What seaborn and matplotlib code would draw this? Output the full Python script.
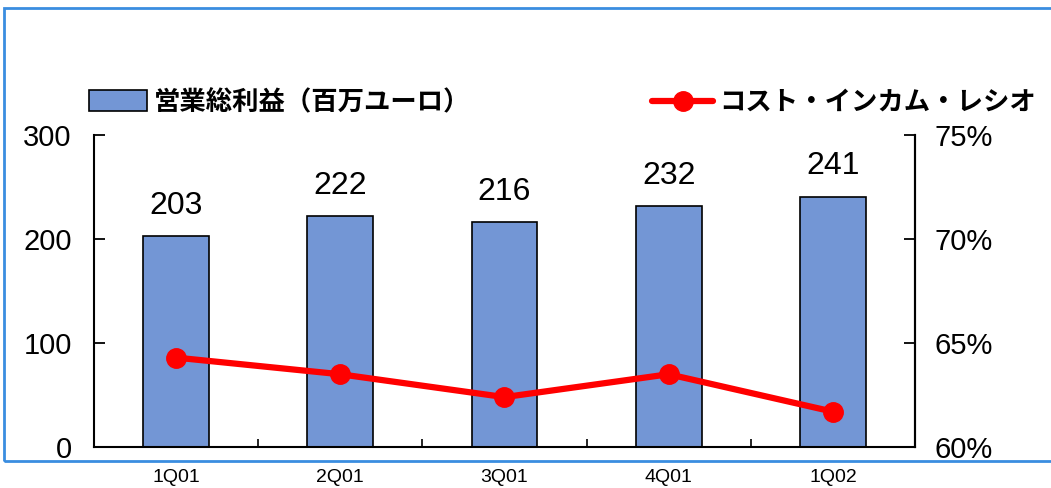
import numpy as np
import pandas as pd
import matplotlib
matplotlib.use("Agg")
import matplotlib.pyplot as plt
import matplotlib.patches as mpatches
from matplotlib.lines import Line2D
import seaborn as sns

quarters = ["1Q01", "2Q01", "3Q01", "4Q01", "1Q02"]
gross_profit = [203, 222, 216, 232, 241]
cost_income = [64.3, 63.5, 62.4, 63.5, 61.7]
bar_label_text = "営業総利益（百万ユーロ）"
line_label_text = "コスト・インカム・レシオ"

sns.set_style("white", {"text.color": "black", "xtick.color": "black",
                        "ytick.color": "black", "axes.labelcolor": "black"})
plt.rcParams["font.family"] = ["Liberation Sans", "DejaVu Sans"]

bar_color = "#7396d5"
line_color = "#ff0000"
jp_font = ["Noto Sans CJK JP", "DejaVu Sans"]

df = pd.DataFrame({"quarter": quarters, "profit": gross_profit})

fig = plt.figure(figsize=(10.51, 4.88), dpi=100)
ax = fig.add_axes([0.0894, 0.084, 0.7812, 0.639])

sns.barplot(data=df, x="quarter", y="profit", color=bar_color, width=0.4,
            edgecolor="black", linewidth=1.2, saturation=1, ax=ax)
ax.bar_label(ax.containers[0], padding=11, fontsize=23, color="black")
ax.set_ylim(0, 300)
ax.set_yticks([0, 100, 200, 300])
ax.set_xlim(-0.5, 4.5)
ax.set_xlabel("")
ax.set_ylabel("")
ax.tick_params(axis="y", direction="in", length=8, width=1.3, labelsize=21, pad=16,
               left=True, colors="black")
ax.tick_params(axis="x", length=0, labelsize=14, pad=16, colors="black")
ax.set_xticks(np.arange(0.5, 4.5, 1), minor=True)
ax.tick_params(axis="x", which="minor", direction="in", length=6, width=1.2, bottom=True)
for side in ["left", "bottom", "right"]:
    ax.spines[side].set_color("black")
    ax.spines[side].set_linewidth(1.5)
ax.spines["top"].set_visible(False)

ax2 = ax.twinx()
ax2.plot(np.arange(len(quarters)), cost_income, color=line_color, linewidth=4.5,
         marker="o", markersize=14, zorder=5)
ax2.set_ylim(60, 75)
ax2.set_yticks([60, 65, 70, 75])
ax2.set_yticklabels([f"{v}%" for v in [60, 65, 70, 75]])
ax2.tick_params(axis="y", direction="in", length=8, width=1.3, labelsize=21, pad=14,
                right=True, colors="black")
ax2.spines["top"].set_visible(False)
ax2.spines["right"].set_linewidth(1.5)
ax2.spines["right"].set_color("black")
ax2.spines["left"].set_visible(False)
ax2.spines["bottom"].set_visible(False)

# legends
bar_handle = mpatches.Patch(facecolor=bar_color, edgecolor="black", linewidth=1.2)
line_handle = Line2D([0], [0], color=line_color, linewidth=4.5, marker="o", markersize=14)
leg1 = fig.legend([bar_handle], [bar_label_text], loc="center left",
                  bbox_to_anchor=(0.062, 0.79), frameon=False, handlelength=2.2,
                  handleheight=0.85, handletextpad=0.25, labelcolor="black",
                  prop={"family": jp_font, "size": 19, "weight": "bold"})
leg2 = fig.legend([line_handle], [line_label_text], loc="center left",
                  bbox_to_anchor=(0.598, 0.79), frameon=False, handlelength=2.3,
                  handletextpad=0.25, labelcolor="black",
                  prop={"family": jp_font, "size": 19, "weight": "bold"})

# blue frame around the chart
frame = mpatches.Rectangle((0.004, 0.0553), 1.1, 0.928, transform=fig.transFigure,
                           fill=False, edgecolor="#3a8de0", linewidth=2, clip_on=False)
fig.patches.append(frame)

fig.savefig("out.png", dpi=100)
